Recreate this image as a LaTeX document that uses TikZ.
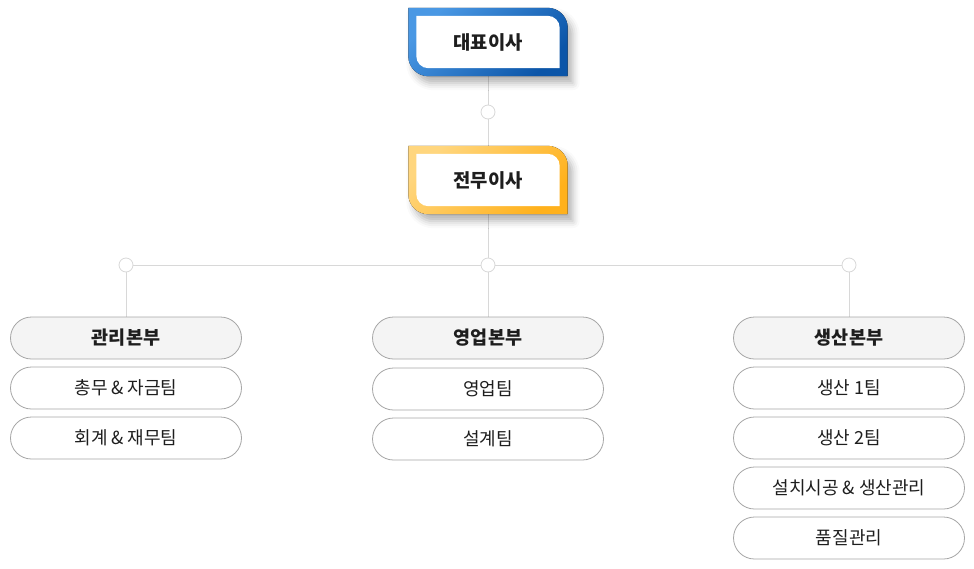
\documentclass[tikz,border=0pt]{standalone}
\usepackage{fontspec}
\setmainfont{Noto Sans CJK KR}
\usetikzlibrary{backgrounds, shadows.blur}

\definecolor{lineGray}{HTML}{D8D8D8}
\definecolor{boxGray}{HTML}{A6A6A6}
\definecolor{headFill}{HTML}{F4F4F4}
\definecolor{ceoLight}{HTML}{4A98E4}
\definecolor{ceoDark}{HTML}{0B55A8}
\definecolor{execLight}{HTML}{FFD67E}
\definecolor{execDark}{HTML}{FFB11C}
\definecolor{textDark}{HTML}{1E1E1E}

% frame with rounded top-right and bottom-left corners
\newcommand{\execframe}[3]{%
  \fill[blur shadow={shadow xshift=5pt, shadow yshift=-7pt, shadow blur radius=7pt, shadow opacity=30},
        top color=#2, bottom color=#3, shading angle=45]
    (#1.north west) -- ([xshift=-20pt]#1.north east)
    arc[start angle=90, end angle=0, radius=20pt]
    -- (#1.south east) -- ([xshift=20pt]#1.south west)
    arc[start angle=270, end angle=180, radius=20pt] -- cycle;
  \fill[white]
    ([shift={(8pt,-8pt)}]#1.north west) -- ([shift={(-20pt,-8pt)}]#1.north east)
    arc[start angle=90, end angle=0, radius=12pt]
    -- ([shift={(-8pt,8pt)}]#1.south east) -- ([shift={(20pt,8pt)}]#1.south west)
    arc[start angle=270, end angle=180, radius=12pt] -- cycle;
}

\begin{document}
\begin{tikzpicture}[x=1pt, y=-1pt,
    topbox/.style={minimum width=159pt, minimum height=68pt, inner sep=0pt,
                   font=\bfseries\fontsize{18.8}{20}\selectfont, text=textDark},
    joint/.style={circle, draw=lineGray, fill=white, line width=0.8pt,
                  minimum size=14pt, inner sep=0pt},
    divbox/.style={draw=boxGray, fill=headFill, line width=0.8pt, rounded corners=21pt,
                   minimum width=231pt, minimum height=42pt, inner sep=0pt,
                   font=\bfseries\fontsize{18.5}{20}\selectfont, text=textDark},
    teambox/.style={draw=boxGray, fill=white, line width=0.8pt, rounded corners=21pt,
                    minimum width=231pt, minimum height=42pt, inner sep=0pt,
                    font=\fontsize{18}{20}\selectfont, text=textDark},
    link/.style={draw=lineGray, line width=0.8pt}]
\useasboundingbox (0,0) rectangle (974,568);

\node (ceo) at (488, 42) [topbox] {대표이사};
\node (exec) at (488, 180) [topbox] {전무이사};

\node (j1) at (488, 112) [joint] {};
\node (j2) at (488, 265) [joint] {};
\node (jl) at (126, 265) [joint] {};
\node (jr) at (849, 265) [joint] {};

\node (mgmt) at (126, 338) [divbox] {관리본부};
\node (mgmt1) at (126, 388) [teambox] {총무 \& 자금팀};
\node (mgmt2) at (126, 438) [teambox] {회계 \& 재무팀};

\node (sales) at (488, 338) [divbox] {영업본부};
\node (sales1) at (488, 389) [teambox] {영업팀};
\node (sales2) at (488, 439) [teambox] {설계팀};

\node (prod) at (849, 338) [divbox] {생산본부};
\node (prod1) at (849, 388) [teambox] {생산 1팀};
\node (prod2) at (849, 438) [teambox] {생산 2팀};
\node (prod3) at (849, 488) [teambox] {설치시공 \& 생산관리};
\node (prod4) at (849, 538) [teambox] {품질관리};

\begin{pgfonlayer}{background}
    \path [link] (ceo) -- (j1) -- (exec);
    \path [link] (exec) -- (j2);
    \path [link] (jl) -- (j2) -- (jr);
    \path [link] (jl) -- (mgmt);
    \path [link] (j2) -- (sales);
    \path [link] (jr) -- (prod);
    \execframe{ceo}{ceoLight}{ceoDark}
    \execframe{exec}{execLight}{execDark}
\end{pgfonlayer}
\end{tikzpicture}
\end{document}
